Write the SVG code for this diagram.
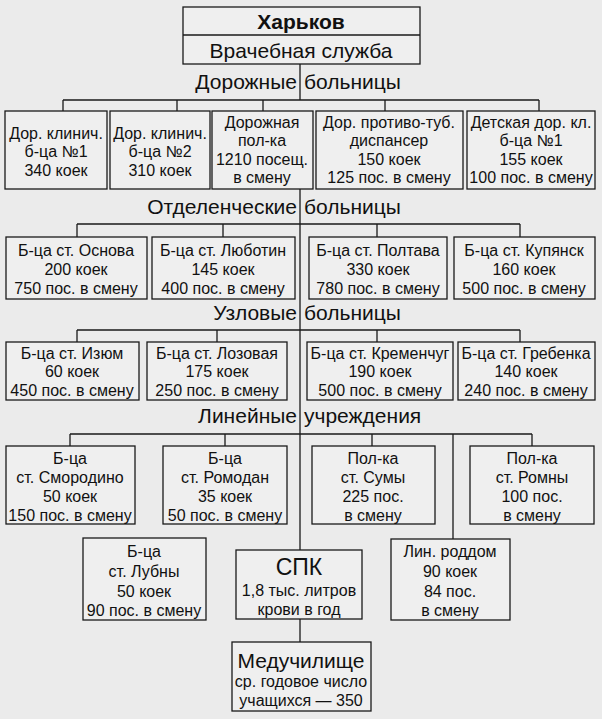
<svg xmlns="http://www.w3.org/2000/svg" width="602" height="719" viewBox="0 0 602 719">
<style>
.bg{fill:#ebebeb}
.box{fill:#efefef;stroke:#1a1a1a;stroke-width:1.3}
.ln{stroke:#1a1a1a;stroke-width:1.3;fill:none}
text{font-family:"Liberation Sans",Arial,sans-serif;fill:#111;dominant-baseline:central}
.t{font-size:16px;text-anchor:middle}
.lab{font-size:21px}
.big{font-size:21px;text-anchor:middle}
.hd{font-size:21px;font-weight:bold;text-anchor:middle}
</style>
<rect class="bg" x="0" y="0" width="602" height="719"/>
<g id="connectors">
<path class="ln" d="M300 64V100M63 100H539M63 100V111M177 100V111M263 100V111M385 100V111M539 100V111"/>
<path class="ln" d="M300 189V224M77 224H520M77 224V237M223 224V237M377 224V237M520 224V237"/>
<path class="ln" d="M300 224V330M77 330H520M77 330V342M217 330V342M377 330V342M520 330V342"/>
<path class="ln" d="M300 330V434M70 434H532M70 434V446M225 434V446M372 434V446M532 434V446M453 434V539"/>
<path class="ln" d="M300 434V550M300 619V642"/>
</g>
<g id="kharkov">
<rect class="box" x="183" y="7" width="237" height="57"/>
<line class="ln" x1="183" y1="35" x2="420" y2="35"/>
<text class="hd" x="301" y="21">Харьков</text>
<text class="big" x="301" y="50">Врачебная служба</text>
</g>
<g id="label-road"><text class="lab" y="81"><tspan x="297" text-anchor="end">Дорожные</tspan><tspan x="304">больницы</tspan></text></g>
<g id="r1a"><rect class="box" x="5" y="111" width="102" height="78"/>
<text class="t" x="56" y="133">Дор. клинич.</text><text class="t" x="56" y="151.5">б-ца №1</text><text class="t" x="56" y="170">340 коек</text></g>
<g id="r1b"><rect class="box" x="110" y="111" width="100" height="78"/>
<text class="t" x="160" y="133">Дор. клинич.</text><text class="t" x="160" y="151.5">б-ца №2</text><text class="t" x="160" y="170">310 коек</text></g>
<g id="r1c"><rect class="box" x="212" y="111" width="101" height="78"/>
<text class="t" x="262" y="122">Дорожная</text><text class="t" x="262" y="140.5">пол-ка</text><text class="t" x="262" y="159">1210 посещ.</text><text class="t" x="262" y="177.5">в смену</text></g>
<g id="r1d"><rect class="box" x="316" y="111" width="147" height="78"/>
<text class="t" x="389" y="122">Дор. противо-туб.</text><text class="t" x="389" y="140.5">диспансер</text><text class="t" x="389" y="159">150 коек</text><text class="t" x="389" y="177.5">125 пос. в смену</text></g>
<g id="r1e"><rect class="box" x="467" y="111" width="128" height="78"/>
<text class="t" x="531" y="122">Детская дор. кл.</text><text class="t" x="531" y="140.5">б-ца №1</text><text class="t" x="531" y="159">155 коек</text><text class="t" x="531" y="177.5">100 пос. в смену</text></g>
<g id="label-dept"><text class="lab" y="206"><tspan x="297" text-anchor="end">Отделенческие</tspan><tspan x="304">больницы</tspan></text></g>
<g id="r2a"><rect class="box" x="6" y="237" width="141" height="62"/>
<text class="t" x="76" y="250">Б-ца ст. Основа</text><text class="t" x="76" y="269">200 коек</text><text class="t" x="76" y="288">750 пос. в смену</text></g>
<g id="r2b"><rect class="box" x="152" y="237" width="143" height="62"/>
<text class="t" x="223" y="250">Б-ца ст. Люботин</text><text class="t" x="223" y="269">145 коек</text><text class="t" x="223" y="288">400 пос. в смену</text></g>
<g id="r2c"><rect class="box" x="309" y="237" width="138" height="62"/>
<text class="t" x="378" y="250">Б-ца ст. Полтава</text><text class="t" x="378" y="269">330 коек</text><text class="t" x="378" y="288">780 пос. в смену</text></g>
<g id="r2d"><rect class="box" x="454" y="237" width="141" height="62"/>
<text class="t" x="524" y="250">Б-ца ст. Купянск</text><text class="t" x="524" y="269">160 коек</text><text class="t" x="524" y="288">500 пос. в смену</text></g>
<g id="label-node"><text class="lab" y="312"><tspan x="297" text-anchor="end">Узловые</tspan><tspan x="304">больницы</tspan></text></g>
<g id="r3a"><rect class="box" x="6" y="342" width="133" height="58"/>
<text class="t" x="72" y="353">Б-ца ст. Изюм</text><text class="t" x="72" y="371.5">60 коек</text><text class="t" x="72" y="390">450 пос. в смену</text></g>
<g id="r3b"><rect class="box" x="147" y="342" width="140" height="58"/>
<text class="t" x="217" y="353">Б-ца ст. Лозовая</text><text class="t" x="217" y="371.5">175 коек</text><text class="t" x="217" y="390">250 пос. в смену</text></g>
<g id="r3c"><rect class="box" x="307" y="342" width="146" height="58"/>
<text class="t" x="380" y="353">Б-ца ст. Кременчуг</text><text class="t" x="380" y="371.5">190 коек</text><text class="t" x="380" y="390">500 пос. в смену</text></g>
<g id="r3d"><rect class="box" x="458" y="342" width="137" height="58"/>
<text class="t" x="526" y="353">Б-ца ст. Гребенка</text><text class="t" x="526" y="371.5">140 коек</text><text class="t" x="526" y="390">240 пос. в смену</text></g>
<g id="label-line"><text class="lab" y="415"><tspan x="297" text-anchor="end">Линейные</tspan><tspan x="304">учреждения</tspan></text></g>
<g id="r4a"><rect class="box" x="6" y="446" width="129" height="78"/>
<text class="t" x="70" y="458">Б-ца</text><text class="t" x="70" y="477">ст. Смородино</text><text class="t" x="70" y="496.5">50 коек</text><text class="t" x="70" y="515.5">150 пос. в смену</text></g>
<g id="r4b"><rect class="box" x="163" y="446" width="124" height="78"/>
<text class="t" x="225" y="458">Б-ца</text><text class="t" x="225" y="477">ст. Ромодан</text><text class="t" x="225" y="496.5">35 коек</text><text class="t" x="225" y="515.5">50 пос. в смену</text></g>
<g id="r4c"><rect class="box" x="312" y="446" width="123" height="78"/>
<text class="t" x="373" y="458">Пол-ка</text><text class="t" x="373" y="477">ст. Сумы</text><text class="t" x="373" y="496.5">225 пос.</text><text class="t" x="373" y="515.5">в смену</text></g>
<g id="r4d"><rect class="box" x="470" y="446" width="124" height="78"/>
<text class="t" x="532" y="458">Пол-ка</text><text class="t" x="532" y="477">ст. Ромны</text><text class="t" x="532" y="496.5">100 пос.</text><text class="t" x="532" y="515.5">в смену</text></g>
<g id="lubny"><rect class="box" x="83" y="538" width="123" height="82"/>
<text class="t" x="144" y="551">Б-ца</text><text class="t" x="144" y="571">ст. Лубны</text><text class="t" x="144" y="591">50 коек</text><text class="t" x="144" y="610">90 пос. в смену</text></g>
<g id="spk"><rect class="box" x="236" y="550" width="126" height="69"/>
<text class="big" x="299" y="567" style="font-size:23px">СПК</text><text class="t" x="299" y="590">1,8 тыс. литров</text><text class="t" x="299" y="609">крови в год</text></g>
<g id="roddom"><rect class="box" x="391" y="539" width="119" height="81"/>
<text class="t" x="450" y="551">Лин. роддом</text><text class="t" x="450" y="571">90 коек</text><text class="t" x="450" y="591">84 пос.</text><text class="t" x="450" y="610">в смену</text></g>
<g id="meduch"><rect class="box" x="232" y="642" width="139" height="69"/>
<text class="big" x="301" y="660">Медучилище</text><text class="t" x="301" y="681">ср. годовое число</text><text class="t" x="301" y="700">учащихся — 350</text></g>
</svg>
